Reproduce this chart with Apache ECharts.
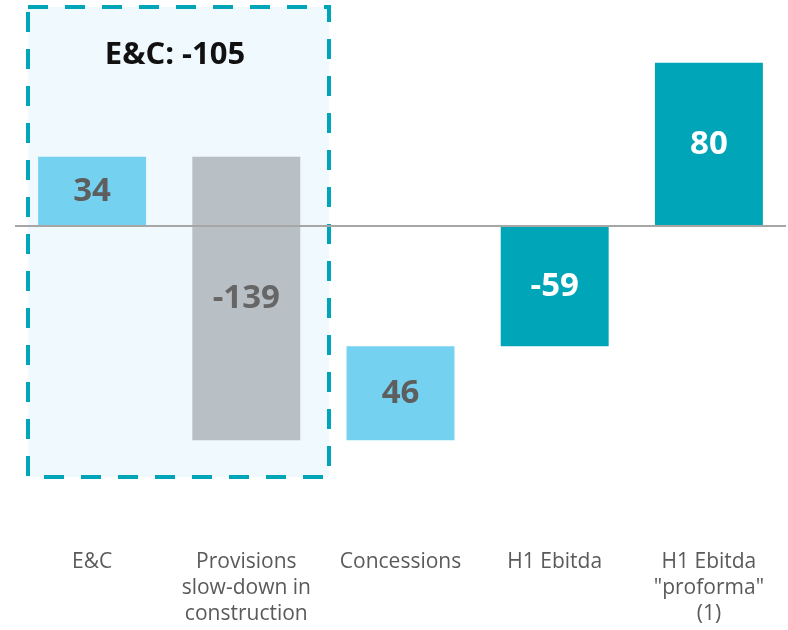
<!DOCTYPE html>
<html>
<head>
<meta charset="utf-8">
<script src="https://cdn.jsdelivr.net/npm/echarts@6/dist/echarts.min.js"></script>
<style>
  html, body { margin: 0; padding: 0; background: #ffffff; }
  #chart { width: 788px; height: 630px; }
</style>
</head>
<body>
<div id="chart"></div>
<script>
  // categories and values
  var categories = ['E&C', 'Provisions\nslow-down in\nconstruction', 'Concessions', 'H1 Ebitda', 'H1 Ebitda\n"proforma"\n(1)'];
  var values = [34, -139, 46, -59, 80];
  var isTotal = [false, false, false, true, true];
  var barColors = ['#74d1f0', '#b8bfc5', '#74d1f0', '#00a6b7', '#00a6b7'];
  var labelColors = ['#5e5e5e', '#666666', '#5e5e5e', '#ffffff', '#ffffff'];
  var boxTitle = 'E&C: -105';

  // waterfall: invisible base + visible piece
  var baseData = [];
  var pieceData = [];
  var cum = 0;
  for (var i = 0; i < values.length; i++) {
    var lo, hi;
    if (isTotal[i]) {
      lo = Math.min(0, values[i]);
      hi = Math.max(0, values[i]);
    } else {
      lo = Math.min(cum, cum + values[i]);
      hi = Math.max(cum, cum + values[i]);
      cum += values[i];
    }
    baseData.push(lo);
    pieceData.push({
      value: hi - lo,
      itemStyle: { color: barColors[i] },
      label: { color: labelColors[i] }
    });
  }

  var chart = echarts.init(document.getElementById('chart'));
  chart.setOption({
    animation: false,
    backgroundColor: '#ffffff',
    grid: { left: 15, right: 2, top: 22, bottom: 98 },
    xAxis: {
      type: 'category',
      data: categories,
      axisLine: { show: false, onZero: false },
      axisTick: { show: false },
      axisLabel: {
        margin: 17,
        fontFamily: 'Open Sans',
        fontSize: 21,
        lineHeight: 26,
        color: '#5a5a5a',
        interval: 0
      }
    },
    yAxis: {
      type: 'value',
      min: -150,
      max: 100,
      show: false,
      splitLine: { show: false }
    },
    graphic: [
      {
        type: 'rect',
        z: 0,
        shape: { x: 28, y: 7, width: 301, height: 470 },
        style: {
          fill: '#f0f9fd',
          stroke: '#00a6b7',
          lineWidth: 4,
          lineDash: [20, 17]
        }
      },
      {
        type: 'text',
        z: 1,
        x: 175,
        y: 55,
        style: {
          text: boxTitle,
          fontFamily: 'Open Sans',
          fontWeight: 'bold',
          fontSize: 31,
          fill: '#111111',
          align: 'center',
          verticalAlign: 'middle'
        }
      }
    ],
    series: [
      {
        name: 'base',
        type: 'bar',
        stack: 'wf',
        stackStrategy: 'all',
        barWidth: '70%',
        itemStyle: { color: 'transparent' },
        silent: true,
        data: baseData
      },
      {
        name: 'value',
        type: 'bar',
        stack: 'wf',
        stackStrategy: 'all',
        barWidth: '70%',
        data: pieceData,
        label: {
          show: true,
          position: 'inside',
          fontFamily: 'Open Sans',
          fontWeight: 'bold',
          fontSize: 33,
          formatter: function (p) { return values[p.dataIndex]; }
        },
        markLine: {
          silent: true,
          symbol: 'none',
          label: { show: false },
          lineStyle: { color: '#a6a6a6', width: 2, type: 'solid' },
          data: [{ yAxis: 0 }]
        }
      }
    ]
  });
</script>
</body>
</html>
